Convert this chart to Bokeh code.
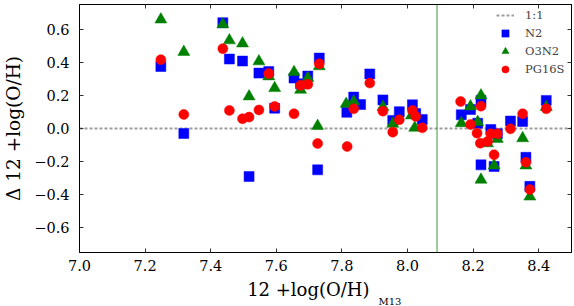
from bokeh.plotting import figure
from bokeh.models import Span, Title, LinearAxis, FixedTicker, Legend, LegendItem
from bokeh.embed import file_html
from bokeh.resources import INLINE

# ---------------- data ----------------
n2_x = [7.248, 7.318, 7.437, 7.457, 7.497, 7.517, 7.547, 7.577, 7.595, 7.654,
        7.674, 7.696, 7.731, 7.726, 7.815, 7.836, 7.857, 7.885, 7.925, 7.955,
        7.975, 8.015, 8.025, 8.045, 8.164, 8.192, 8.224, 8.214, 8.224, 8.254,
        8.274, 8.264, 8.314, 8.351, 8.361, 8.373, 8.423]
n2_y = [0.375, -0.03, 0.64, 0.42, 0.408, -0.29, 0.335, 0.345, 0.123, 0.305,
        0.27, 0.317, 0.426, -0.25, 0.098, 0.19, 0.145, 0.33, 0.173, 0.049,
        0.102, 0.143, 0.09, 0.055, 0.083, 0.115, 0.17, 0.032, -0.22, -0.006,
        -0.032, -0.23, 0.045, 0.043, -0.174, -0.35, 0.17]

o3n2_x = [7.248, 7.318, 7.437, 7.457, 7.497, 7.517, 7.547, 7.577, 7.595, 7.654,
          7.674, 7.696, 7.731, 7.726, 7.813, 7.836, 7.925, 7.955, 8.012, 8.022,
          8.164, 8.192, 8.224, 8.214, 8.224, 8.244, 8.274, 8.264, 8.351, 8.361,
          8.373, 8.423]
o3n2_y = [0.659, 0.463, 0.63, 0.533, 0.514, 0.194, 0.406, 0.315, 0.244, 0.341,
          0.234, 0.305, 0.376, 0.015, 0.149, 0.163, 0.13, 0.028, 0.079, 0.004,
          0.032, 0.133, 0.2, 0.039, -0.31, -0.09, -0.063, -0.224, -0.059, -0.224,
          -0.412, 0.13]

pg16s_x = [7.248, 7.318, 7.437, 7.457, 7.497, 7.517, 7.547, 7.577, 7.595, 7.654,
           7.674, 7.696, 7.731, 7.726, 7.816, 7.836, 7.885, 7.925, 7.955, 7.975,
           8.015, 8.025, 8.045, 8.162, 8.192, 8.224, 8.212, 8.222, 8.244, 8.254,
           8.274, 8.264, 8.314, 8.351, 8.361, 8.373, 8.423]
pg16s_y = [0.416, 0.085, 0.483, 0.109, 0.059, 0.069, 0.112, 0.332, 0.133, 0.089,
           0.261, 0.267, 0.392, -0.091, -0.109, 0.119, 0.275, 0.105, -0.022, 0.053,
           0.109, 0.073, 0.004, 0.163, 0.024, 0.135, -0.028, -0.089, -0.079, -0.032,
           -0.032, -0.159, -0.002, 0.089, -0.204, -0.369, 0.119]

series_names = ["1:1", "N2", "O3N2", "PG16S"]

x_limits = [7.0, 8.5]
y_limits = [-0.75, 0.75]
ref_y = [0.0, 0.0]
split_x = 8.09

x_ticks = [7.0, 7.2, 7.4, 7.6, 7.8, 8.0, 8.2, 8.4]
x_tick_labels = ["7.0", "7.2", "7.4", "7.6", "7.8", "8.0", "8.2", "8.4"]
y_ticks = [-0.6, -0.4, -0.2, 0.0, 0.2, 0.4, 0.6]
y_tick_labels = ["\u22120.6", "\u22120.4", "\u22120.2", "0.0", "0.2", "0.4", "0.6"]

x_label_main = "12 +log(O/H)"
x_label_sub = "M13"
y_label = "\u0394 12 +log(O/H)"

# ---------------- figure ----------------
FONT = "DejaVu Serif"

p = figure(width=574, height=306,
           x_range=(x_limits[0], x_limits[1]), y_range=(y_limits[0], y_limits[1]),
           output_backend="svg", toolbar_location=None,
           min_border_left=72, min_border_right=3, min_border_top=4, min_border_bottom=54)

p.xgrid.visible = False
p.ygrid.visible = False
p.outline_line_color = "black"
p.outline_line_width = 1
p.outline_line_alpha = 1.0
p.background_fill_color = "white"
p.border_fill_color = "white"

for ax in (p.xaxis[0], p.yaxis[0]):
    ax.major_tick_in = 4
    ax.major_tick_out = 0
    ax.minor_tick_line_color = None
    ax.axis_line_color = "black"
    ax.major_tick_line_color = "#333333"
    ax.major_label_text_font = FONT
    ax.major_label_text_font_size = "14.5px"
    ax.major_label_text_color = "black"

xa = p.xaxis[0]
xa.ticker = FixedTicker(ticks=x_ticks)
xa.major_label_overrides = dict(zip(x_ticks, x_tick_labels))
xa.major_label_standoff = 7
# trailing no-break spaces shift the centred label left to leave room for the subscript
xa.axis_label = x_label_main + "\u00a0" * 6
xa.axis_label_text_font = FONT
xa.axis_label_text_font_size = "18px"
xa.axis_label_text_font_style = "normal"
xa.axis_label_text_color = "black"
xa.axis_label_standoff = 5

ya = p.yaxis[0]
ya.ticker = FixedTicker(ticks=y_ticks)
ya.major_label_overrides = dict(zip(y_ticks, y_tick_labels))
ya.major_label_standoff = 10
ya.axis_label = y_label
ya.axis_label_text_font = FONT
ya.axis_label_text_font_size = "18.5px"
ya.axis_label_text_font_style = "normal"
ya.axis_label_text_color = "black"
ya.axis_label_standoff = 7

# subscript of the x label
p.add_layout(Title(text=x_label_sub, align="left", offset=299, standoff=-13,
                   vertical_align="top", text_font=FONT, text_font_size="10px",
                   text_font_style="normal", text_color="black"), "below")

# mirrored tick marks on top / right
for loc, ticks in (("above", x_ticks), ("right", y_ticks)):
    ax = LinearAxis(ticker=FixedTicker(ticks=ticks),
                    major_label_overrides={t: "" for t in ticks},
                    major_label_text_font_size="0px", major_label_standoff=0,
                    major_tick_in=4, major_tick_out=0, minor_tick_line_color=None,
                    axis_line_color="black", major_tick_line_color="#333333")
    p.add_layout(ax, loc)

# vertical separator
p.add_layout(Span(location=split_x, dimension="height", line_color="#3a9a3a", line_width=1))

# 1:1 reference line
ref = p.line(x=x_limits, y=ref_y, line_color="#9e9e9e", line_width=2, line_dash="3 2")

r_n2 = p.scatter(n2_x, n2_y, marker="square", size=10,
                 fill_color="#0000ff", line_color="#0000ff", line_width=0.5)
r_o3 = p.scatter(o3n2_x, o3n2_y, marker="triangle", size=12,
                 fill_color="#008000", line_color="#008000", line_width=0.5)
r_pg = p.scatter(pg16s_x, pg16s_y, marker="circle", size=10,
                 fill_color="#ff0000", line_color="#ff0000", line_width=0.5)

legend = Legend(items=[LegendItem(label=series_names[0], renderers=[ref]),
                       LegendItem(label=series_names[1], renderers=[r_n2]),
                       LegendItem(label=series_names[2], renderers=[r_o3]),
                       LegendItem(label=series_names[3], renderers=[r_pg])],
                location="top_right", border_line_color=None,
                background_fill_alpha=0.0,
                label_text_font=FONT, label_text_font_size="11.5px",
                glyph_width=18, glyph_height=18, label_height=18, label_width=44,
                label_standoff=11, spacing=0, padding=2, margin=2)
p.add_layout(legend)

open("out.html", "w").write(file_html(p, INLINE))
